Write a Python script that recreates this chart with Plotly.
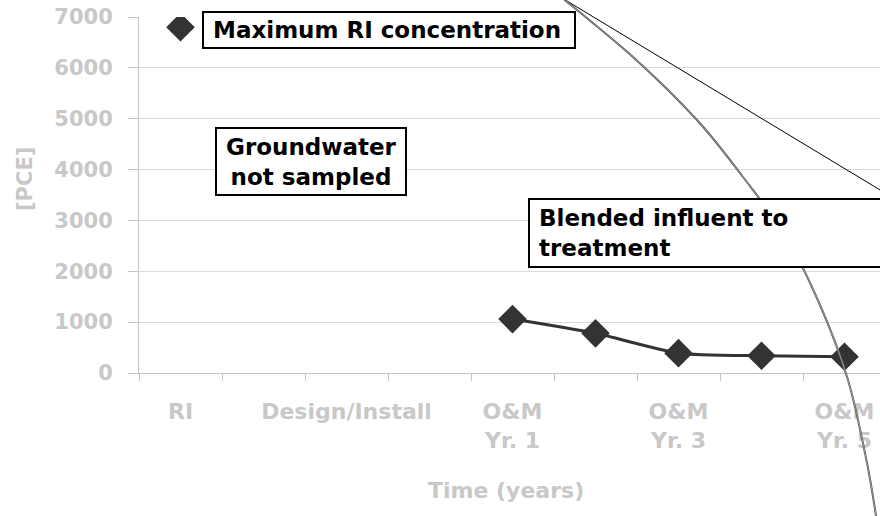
import plotly.graph_objects as go

# ---------------- data ----------------
categories = ["RI", "RI-2", "Design/Install", "Install-2", "O&M Yr. 1",
              "O&M Yr. 2", "O&M Yr. 3", "O&M Yr. 4", "O&M Yr. 5"]
tick_labels = ["RI", "", "Design/Install", "", "O&amp;M<br>Yr. 1",
               "", "O&amp;M<br>Yr. 3", "", "O&amp;M<br>Yr. 5"]
blended_x = ["O&M Yr. 1", "O&M Yr. 2", "O&M Yr. 3", "O&M Yr. 4", "O&M Yr. 5"]
blended_pce = [1060, 780, 390, 340, 320]
max_ri_x = ["RI"]
max_ri_pce = [6800]
y_ticks = [0, 1000, 2000, 3000, 4000, 5000, 6000, 7000]

# ---------------- layout geometry (pixels) ----------------
W, H = 880, 516
PX0, PX1 = 139, 880      # plot area left/right
PY0, PY1 = 17, 373       # plot area top/bottom
CAT_W = 83.0             # pixels per category


def px(xp):
    return (xp - PX0) / (PX1 - PX0)


def py(yp):
    return (PY1 - yp) / (PY1 - PY0)


idx = {c: i for i, c in enumerate(categories)}
GRAY_TXT = "#c8c8c8"
AXIS_C = "#c4c4c4"
GRID_C = "#dadada"
DARK = "#333333"
FONT = "DejaVu Sans"

fig = go.Figure()
fig.add_trace(go.Scatter(
    x=[idx[c] for c in blended_x], y=blended_pce, mode="lines+markers",
    line=dict(color=DARK, width=3, shape="spline", smoothing=0.6),
    marker=dict(symbol="diamond", size=22, color=DARK),
    showlegend=False, name="Blended influent"))
fig.add_trace(go.Scatter(
    x=[idx[c] for c in max_ri_x], y=max_ri_pce, mode="markers",
    marker=dict(symbol="diamond", size=22, color=DARK),
    showlegend=False, name="Maximum RI concentration"))

# ---------------- decorative callout lines ----------------
curve_pts = [(560, -4), (633, 57), (697, 120), (743, 177), (785, 235),
             (820, 305), (848, 380), (867, 463), (877, 522)]


def catmull_path(pts):
    P = [(px(a), py(b)) for a, b in pts]
    d = "M %.5f,%.5f" % P[0]
    for i in range(len(P) - 1):
        p0 = P[i - 1] if i > 0 else P[i]
        p1, p2 = P[i], P[i + 1]
        p3 = P[i + 2] if i + 2 < len(P) else P[i + 1]
        c1 = (p1[0] + (p2[0] - p0[0]) / 6, p1[1] + (p2[1] - p0[1]) / 6)
        c2 = (p2[0] - (p3[0] - p1[0]) / 6, p2[1] - (p3[1] - p1[1]) / 6)
        d += " C %.5f,%.5f %.5f,%.5f %.5f,%.5f" % (c1 + c2 + p2)
    return d


shapes = []
shapes.append(dict(type="line", xref="paper", yref="paper",
                   x0=px(562), y0=py(-2), x1=px(905), y1=py(205),
                   line=dict(color="#000000", width=1), layer="above"))
shapes.append(dict(type="path", xref="paper", yref="paper",
                   path=catmull_path(curve_pts),
                   line=dict(color="#555555", width=2), layer="above"))
shapes.append(dict(type="path", xref="paper", yref="paper",
                   path=catmull_path(curve_pts),
                   line=dict(color="#a8a8a8", width=0.8), layer="above"))

# text boxes
boxes = [(203, 12, 575, 48), (216, 128, 406, 195), (529, 199, 910, 267)]
for x0, y0, x1, y1 in boxes:
    shapes.append(dict(type="rect", xref="paper", yref="paper",
                       x0=px(x0), y0=py(y1), x1=px(x1), y1=py(y0),
                       line=dict(color="#000000", width=2),
                       fillcolor="#ffffff", layer="above"))

annotations = [
    dict(text="Maximum RI concentration", x=px(211), y=py(30),
         xanchor="left", yanchor="middle", align="left"),
    dict(text="Groundwater<br>not sampled", x=px(311), y=py(161.5),
         xanchor="center", yanchor="middle", align="center"),
    dict(text="Blended influent to<br>treatment", x=px(537), y=py(233),
         xanchor="left", yanchor="middle", align="left"),
]
for a in annotations:
    a.update(xref="paper", yref="paper", showarrow=False,
             font=dict(family=FONT, size=23, color="#000000", weight="bold"))

annotations.append(dict(text="Time (years)", x=px(506), y=py(490), xref="paper",
                        yref="paper", showarrow=False, xanchor="center",
                        yanchor="middle",
                        font=dict(family=FONT, size=22, color=GRAY_TXT, weight="bold")))
annotations.append(dict(text="[PCE]", x=px(25), y=py(179), xref="paper",
                        yref="paper", showarrow=False, xanchor="center",
                        yanchor="middle", textangle=-90,
                        font=dict(family=FONT, size=21, color=GRAY_TXT, weight="bold")))

x_range = [-0.5, -0.5 + (PX1 - PX0) / CAT_W]

fig.update_layout(
    width=W, height=H,
    margin=dict(l=PX0, r=W - PX1, t=PY0, b=H - PY1, pad=0),
    paper_bgcolor="#ffffff", plot_bgcolor="#ffffff",
    shapes=shapes, annotations=annotations,
    xaxis=dict(range=x_range, tickmode="array",
               tickvals=list(range(len(categories))), ticktext=tick_labels,
               ticks="", showgrid=False, zeroline=False,
               showline=True, linecolor=AXIS_C, linewidth=1,
               ticklabelstandoff=19,
               tickfont=dict(family=FONT, size=22, color=GRAY_TXT, weight="bold"),
               minor=dict(tickmode="array",
                          tickvals=[i - 0.5 for i in range(len(categories) + 1)],
                          ticks="outside", ticklen=7, tickcolor=AXIS_C,
                          tickwidth=1, showgrid=False)),
    yaxis=dict(range=[0, 7000], tickmode="array", tickvals=y_ticks,
               ticks="outside", ticklen=10, tickcolor=AXIS_C, tickwidth=1,
               showgrid=True, gridcolor=GRID_C, gridwidth=1, zeroline=False,
               showline=True, linecolor=AXIS_C, linewidth=1,
               ticklabelstandoff=11,
               tickfont=dict(family=FONT, size=21, color=GRAY_TXT, weight="bold")),
)

fig.write_html("out.html",
               config={"displayModeBar": False},
               post_script="document.body.style.margin='0px';"
                           "document.body.style.overflow='hidden';")
